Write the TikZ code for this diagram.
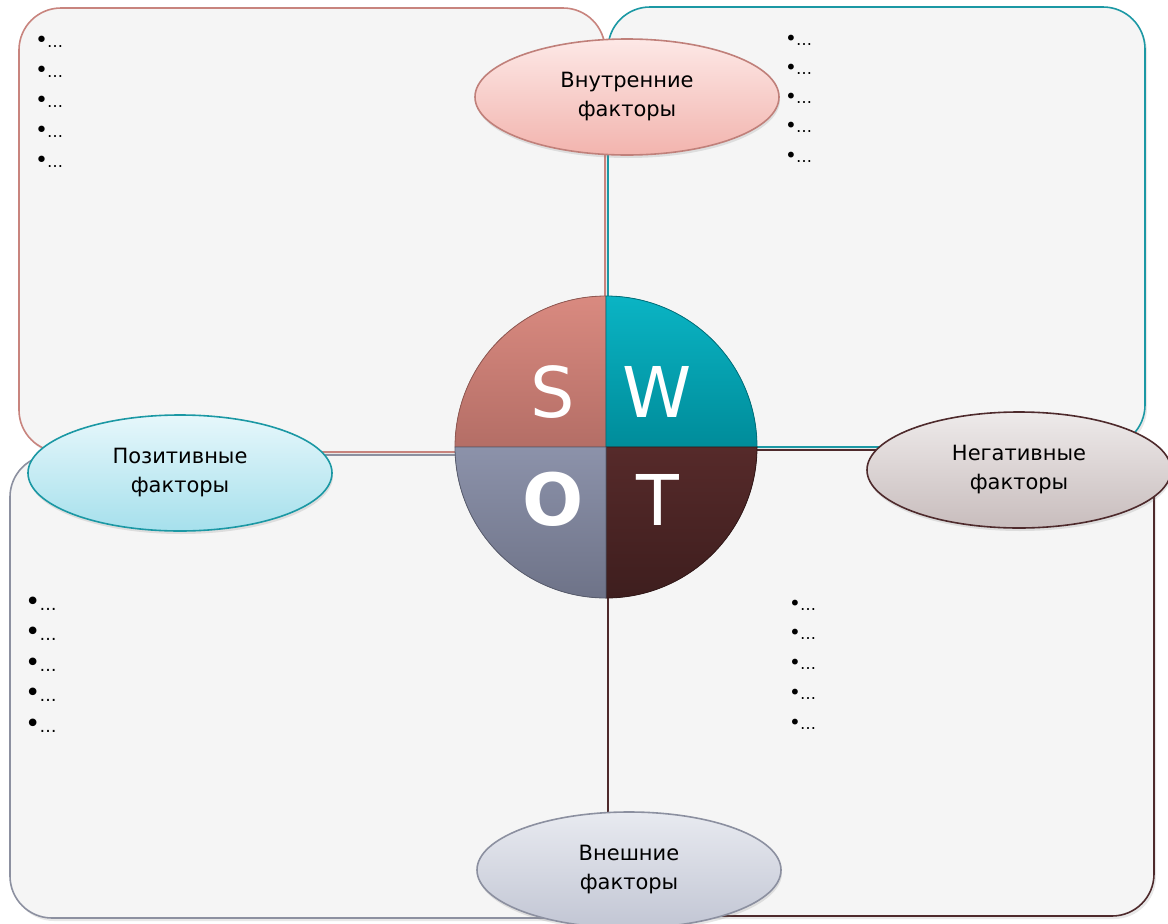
\documentclass[tikz,border=0pt]{standalone}
\usepackage{fontspec}
\setmainfont{DejaVu Sans}
\usetikzlibrary{shapes.geometric,shadows}
\definecolor{boxfill}{HTML}{F5F5F5}
\definecolor{tlb}{HTML}{C8847E}
\definecolor{trb}{HTML}{1B98A4}
\definecolor{blb}{HTML}{8C90A0}
\definecolor{brb}{HTML}{4E2A2C}
\definecolor{inT}{HTML}{FDE8E6}\definecolor{inB}{HTML}{F2B4AE}\definecolor{inD}{HTML}{C0807A}
\definecolor{poT}{HTML}{E6F7FB}\definecolor{poB}{HTML}{A6E0EC}
\definecolor{neT}{HTML}{EEEAEA}\definecolor{neB}{HTML}{C8BDBD}
\definecolor{exT}{HTML}{E8EAF0}\definecolor{exB}{HTML}{C2C6D4}
\definecolor{sT}{HTML}{D98A80}\definecolor{sB}{HTML}{B46E66}
\definecolor{wT}{HTML}{0AB4C4}\definecolor{wB}{HTML}{008C9A}
\definecolor{oT}{HTML}{8C92AA}\definecolor{oB}{HTML}{6E7388}
\definecolor{tT}{HTML}{562A2A}\definecolor{tB}{HTML}{3E1E1E}
\newcommand{\bul}[1]{{\fontsize{#1}{20}\selectfont•}\hspace{-1pt}…}
\begin{document}
\begin{tikzpicture}[x=1pt,y=-1pt,
  quad/.style={rectangle,rounded corners=42pt,fill=boxfill,line width=1.6pt,inner sep=0pt,
    drop shadow={opacity=0.18,shadow xshift=2pt,shadow yshift=-3pt}},
  oval/.style={ellipse,line width=1.6pt,inner sep=0pt,minimum width=304pt,minimum height=116pt,
    align=center,font=\fontsize{21}{29}\selectfont,
    drop shadow={opacity=0.2,shadow xshift=1pt,shadow yshift=-3pt}},
  itemtxt/.style={anchor=base west,inner sep=0pt,font=\fontsize{16}{20}\selectfont},
  letter/.style={text=white,inner sep=0pt,font=\fontsize{70}{70}\selectfont},
  wedge/.style={line width=0.8pt}]
\useasboundingbox (0,0) rectangle (1168,924);
% quadrant boxes
\node[quad,draw=tlb,minimum width=586pt,minimum height=444pt] (tl) at (312,230) {};
\node[quad,draw=trb,minimum width=537pt,minimum height=440pt] (tr) at (876.5,227) {};
\node[quad,draw=blb,minimum width=598pt,minimum height=463pt] (bl) at (309,686.5) {};
\node[quad,draw=brb,minimum width=546pt,minimum height=466pt] (br) at (881,683) {};
% item lists
\foreach \i in {0,...,4}{
  \node[itemtxt] (tli\i) at (35,{47+30*\i}) {\bul{22}};
  \node[itemtxt] (tri\i) at (785,{45+29.3*\i}) {\bul{20}};
  \node[itemtxt,font=\fontsize{17}{20}\selectfont] (bli\i) at (25,{610+30.5*\i}) {\bul{26}};
  \node[itemtxt] (bri\i) at (789,{610+29.8*\i}) {\bul{20}};
}
% SWOT circle
\coordinate (c) at (606,447);
\filldraw[wedge,draw=sB!80!black,top color=sT,bottom color=sB] (c) -- ++(-151,0) arc[start angle=180,end angle=270,radius=151] -- cycle;
\filldraw[wedge,draw=wB!80!black,top color=wT,bottom color=wB] (c) -- ++(0,-151) arc[start angle=270,end angle=360,radius=151] -- cycle;
\filldraw[wedge,draw=tB!80!black,top color=tT,bottom color=tB] (c) -- ++(151,0) arc[start angle=0,end angle=90,radius=151] -- cycle;
\filldraw[wedge,draw=oB!80!black,top color=oT,bottom color=oB] (c) -- ++(0,151) arc[start angle=90,end angle=180,radius=151] -- cycle;
\node[letter] (S) at (553,392) {S};
\node[letter] (W) at (657,392) {W};
\node[letter,font=\fontsize{72}{72}\selectfont\bfseries] (O) at (553,499) {O};
\node[letter] (T) at (658,500) {T};
% ovals
\node[oval,draw=inD,top color=inT,bottom color=inB] (inner) at (627,97) {Внутренние\\факторы};
\node[oval,draw=trb,top color=poT,bottom color=poB] (pos) at (180,473) {Позитивные\\факторы};
\node[oval,draw=brb,top color=neT,bottom color=neB] (neg) at (1019,470) {Негативные\\факторы};
\node[oval,draw=blb,top color=exT,bottom color=exB] (ext) at (629,870) {Внешние\\факторы};
\end{tikzpicture}
\end{document}
